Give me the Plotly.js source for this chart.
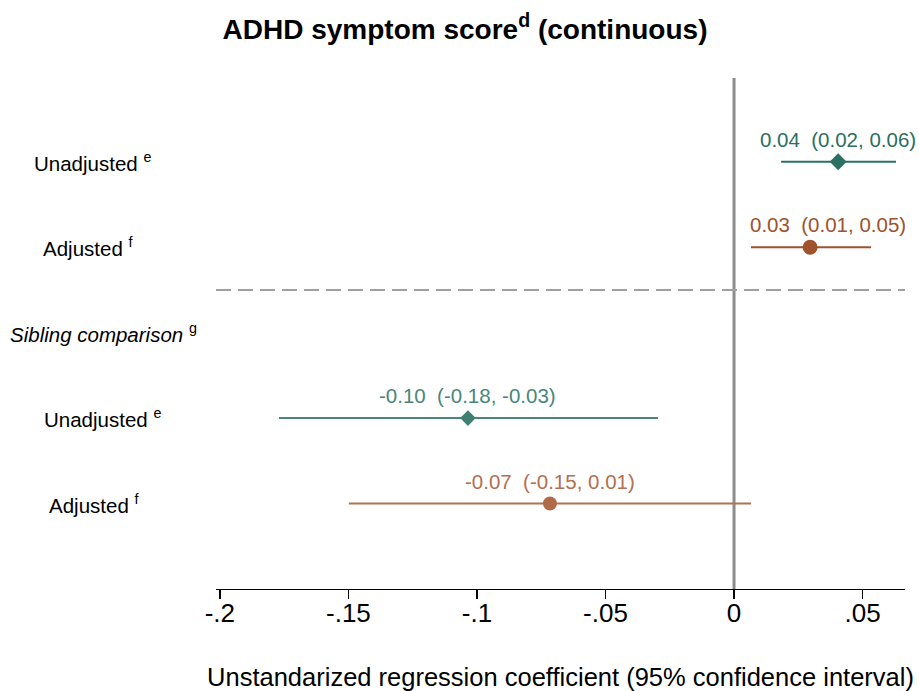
<!DOCTYPE html>
<html>
<head>
<meta charset="utf-8">
<script src="https://cdn.plot.ly/plotly-3.0.1.min.js"></script>
<style>html,body{margin:0;padding:0;background:#fff;}#chart{width:919px;height:691px;}</style>
</head>
<body>
<div id="chart"></div>
<script>
// Data
const rowLabels = ["Unadjusted <sup>e</sup>", "Adjusted <sup>f</sup>", "<i>Sibling comparison</i> <sup>g</sup>", "Unadjusted <sup>e</sup>", "Adjusted <sup>f</sup>"];
const rowPos = [1, 2, 3, 4, 5];
const estimates = [0.0405, 0.0296, null, -0.1035, -0.0716];
const ciLow = [0.0183, 0.0066, null, -0.1770, -0.1498];
const ciHigh = [0.0630, 0.0533, null, -0.0296, 0.0066];
const estText = ["0.04", "0.03", null, "-0.10", "-0.07"];
const ciText = ["(0.02, 0.06)", "(0.01, 0.05)", null, "(-0.18, -0.03)", "(-0.15, 0.01)"];
const tickVals = [-0.2, -0.15, -0.1, -0.05, 0, 0.05];
const tickText = ["-.2", "-.15", "-.1", "-.05", "0", ".05"];

// Styles
const markerSymbols = ["diamond", "circle", null, "diamond", "circle"];
const markerColors = ["#2b7061", "#a0522d", null, "#3f8073", "#b06a49"];
const lineColors = ["#2b7061", "#a0522d", null, "#4a867a", "#b37050"];
const markerSizes = [13, 15, null, 12, 14];
const labelLeftPx = [32, 41, 8, 42, 47];
const labelShiftPx = [0, 18, 0, 0, 0];

const L = 216, R = 14, T = 78, B = 102, W = 919;
const plotW = W - L - R;
const FONT = "Liberation Sans, Arial, sans-serif";

const traces = [];
rowPos.forEach((y, i) => {
  if (estimates[i] === null) return;
  traces.push({
    type: "scatter", mode: "markers",
    x: [estimates[i]], y: [y],
    marker: {symbol: markerSymbols[i], size: markerSizes[i], color: markerColors[i],
             line: {width: 0}},
    error_x: {type: "data", symmetric: false,
              array: [ciHigh[i] - estimates[i]], arrayminus: [estimates[i] - ciLow[i]],
              color: lineColors[i], thickness: 2, width: 0},
    hoverinfo: "skip", showlegend: false, cliponaxis: false
  });
});

const annotations = [];
rowPos.forEach((y, i) => {
  annotations.push({
    xref: "paper", yref: "y", x: (labelLeftPx[i] - L) / plotW, y: y,
    xanchor: "left", yanchor: "middle", showarrow: false,
    text: rowLabels[i],
    font: {family: FONT, size: 20.5, color: "#000"}
  });
  if (estimates[i] !== null) {
    annotations.push({
      xref: "x", yref: "y", x: estimates[i], y: y,
      xanchor: "center", yanchor: "bottom", yshift: 9, xshift: labelShiftPx[i], showarrow: false,
      text: estText[i] + "\u00a0\u00a0" + ciText[i],
      font: {family: FONT, size: 20.5, color: lineColors[i]}
    });
  }
});

const layout = {
  width: 919, height: 691,
  margin: {l: L, r: R, t: T, b: B, pad: 0},
  paper_bgcolor: "#fff", plot_bgcolor: "#fff",
  title: {text: "<b>ADHD symptom score<sup>d</sup> (continuous)</b>",
          font: {family: FONT, size: 28, color: "#000"},
          x: 0.506, xanchor: "center", y: 0.958, yanchor: "middle"},
  xaxis: {range: [-0.2015, 0.0665], tickvals: tickVals, ticktext: tickText,
          showgrid: false, zeroline: false, showline: true, linecolor: "#000", linewidth: 1.3,
          ticks: "outside", ticklen: 9, tickcolor: "#000", tickwidth: 1.3,
          ticklabelstandoff: -9,
          tickfont: {family: FONT, size: 26, color: "#000"},
          title: {text: "Unstandarized regression coefficient (95% confidence interval)",
                  font: {family: FONT, size: 25.5, color: "#000"},
                  standoff: 42}},
  yaxis: {range: [6, 0.02], showgrid: false, zeroline: false, showline: false,
          showticklabels: false, ticks: ""},
  shapes: [
    {type: "line", xref: "x", yref: "paper", x0: 0, x1: 0, y0: 0, y1: 1,
     line: {color: "#8c8c8c", width: 3}, layer: "below"},
    {type: "line", xref: "paper", yref: "y", x0: 0, x1: 1, y0: 2.5, y1: 2.5,
     line: {color: "#a0a0a0", width: 2, dash: "15px,7px"}, layer: "below"}
  ],
  annotations: annotations,
  showlegend: false
};

Plotly.newPlot("chart", traces, layout, {displayModeBar: false, staticPlot: true});
</script>
</body>
</html>
